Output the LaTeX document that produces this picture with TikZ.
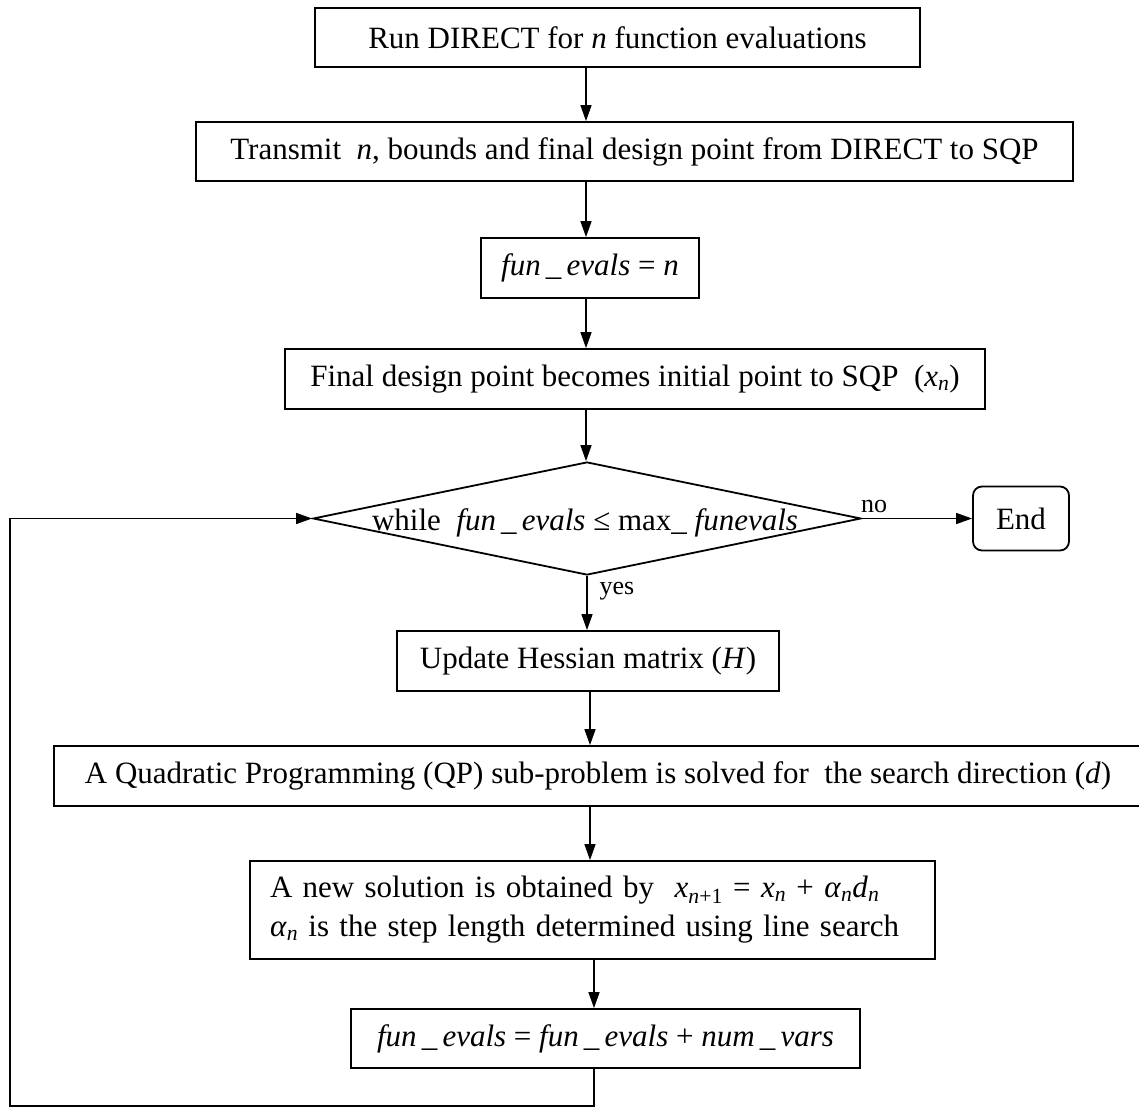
\documentclass[tikz,border=0pt]{standalone}
\usepackage{fontspec}
\setmainfont{Liberation Serif}
\usetikzlibrary{arrows.meta,shapes.geometric}
\newcommand{\vi}[1]{\textit{#1}}
\newcommand{\sbs}[1]{\textsubscript{#1}}
\begin{document}
\begin{tikzpicture}[x=1pt,y=-1pt,
  font=\fontsize{31}{39}\selectfont,
  box/.style={draw, line width=1.8pt, inner sep=0pt, align=center},
  arr/.style={line width=1.5pt, -{Triangle[length=16pt,width=11pt]}},
  lbl/.style={inner sep=0pt, font=\fontsize{26}{30}\selectfont}]
\useasboundingbox (0,0) rectangle (1139,1107);
\node[box, minimum width=605, minimum height=59] (b1) at (617.5,37.5)
  {Run DIRECT for \vi{n} function evaluations};
\node[box, minimum width=877, minimum height=59] (b2) at (634.5,151.5)
  {Transmit \ \vi{n}, bounds and final design point from DIRECT to SQP};
\node[box, minimum width=218, minimum height=60] (b3) at (590,268)
  {\vi{fun}\,\_\,\vi{evals} = \vi{n}};
\node[box, minimum width=700, minimum height=60] (b4) at (635,379)
  {Final design point becomes initial point to SQP \ (\vi{x}\sbs{\vi{n}})};
\node[draw, line width=1.8pt, shape=diamond, inner sep=0pt, shape aspect=4.85,
  minimum width=548, minimum height=113] (dia) at (587,518.5) {};
\node[inner sep=0pt] (diat) at (585,523)
  {while \ \vi{fun}\,\_\,\vi{evals} ≤ max\_ \vi{funevals}};
\node[box, rounded corners=9pt, minimum width=96, minimum height=64] (end) at (1021,518.5) {End};
\node[box, minimum width=382, minimum height=60] (b5) at (588,661)
  {Update Hessian matrix (\vi{H})};
\node[box, minimum width=1088, minimum height=60] (b6) at (598,776)
  {A Quadratic Programming (QP) sub-problem is solved for \ the search direction (\vi{d})};
\node[box, text width=645, inner xsep=20pt, minimum height=98, align=left] (b7) at (592.5,910)
  {A new solution is obtained by \ \vi{x}\sbs{\vi{n}+1} = \vi{x}\sbs{\vi{n}} + \vi{α}\sbs{\vi{n}}\vi{d}\sbs{\vi{n}}\\
   \vi{α}\sbs{\vi{n}} is the step length determined using line search};
\node[box, minimum width=509, minimum height=59] (b8) at (605.5,1038.5)
  {\vi{fun}\,\_\,\vi{evals} = \vi{fun}\,\_\,\vi{evals} + \vi{num}\,\_\,\vi{vars}};
\coordinate (ca) at (586,0);
\coordinate (cc) at (590,0);
\coordinate (cd) at (594,0);
\coordinate (lb) at (10,1106);
\draw[arr] (b1.south -| ca) -- (b2.north -| ca);
\draw[arr] (b2.south -| ca) -- (b3.north -| ca);
\draw[arr] (b3.south -| ca) -- (b4.north -| ca);
\draw[arr] (b4.south -| ca) -- (dia.north -| ca);
\draw[arr] (dia.south) -- (b5.north -| dia.south);
\draw[arr] (b5.south -| cc) -- (b6.north -| cc);
\draw[arr] (b6.south -| cc) -- (b7.north -| cc);
\draw[arr] (b7.south -| cd) -- (b8.north -| cd);
\draw[arr] (dia.east) -- (end.west);
\draw[arr] (b8.south -| cd) -- (lb -| cd) -- (lb) -- (lb |- dia.west) -- (dia.west);
\node[lbl] (no) at (874,506) {no};
\node[lbl] (yes) at (617,591) {yes};
\end{tikzpicture}
\end{document}
